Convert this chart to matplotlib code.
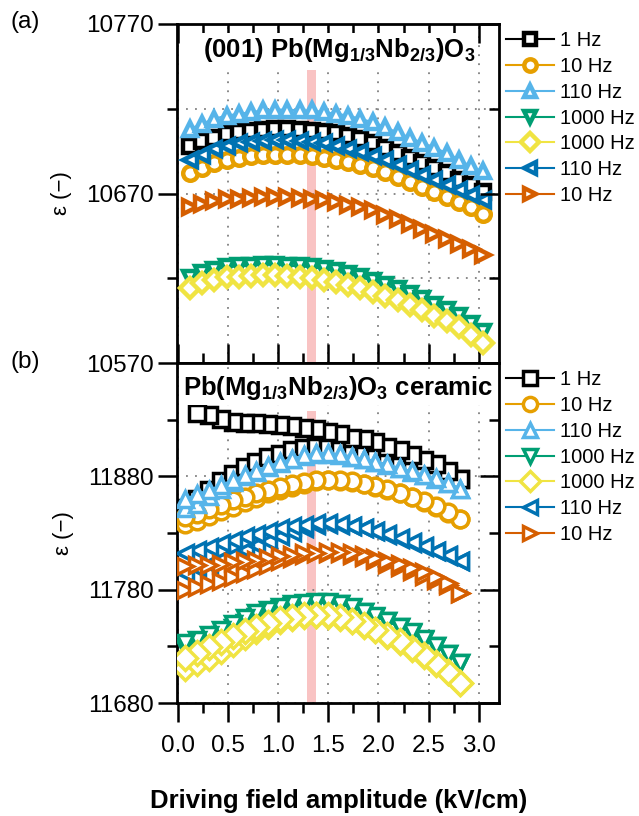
import numpy as np
import matplotlib.pyplot as plt
from matplotlib.ticker import MultipleLocator, FixedLocator, NullFormatter

plt.rcParams['font.family'] = ['Liberation Sans', 'DejaVu Sans']
plt.rcParams['mathtext.fontset'] = 'custom'
plt.rcParams['mathtext.rm'] = 'Liberation Sans'
plt.rcParams['mathtext.bf'] = 'Liberation Sans:bold'

# ---- data ----
labels = ['1 Hz', '10 Hz', '110 Hz', '1000 Hz', '1000 Hz', '110 Hz', '10 Hz']
colors = ['#000000', '#E69F00', '#56B4E9', '#009E73', '#F0E442', '#0072B2', '#D55E00']
markers = ['s', 'o', '^', 'v', 'D', '<', '>']

# (a) single crystal, field amplitude in kV/cm
xa = [0.12, 0.24, 0.36, 0.49, 0.61, 0.73, 0.85, 0.97, 1.09, 1.22, 1.34, 1.46, 1.58,
      1.70, 1.82, 1.95, 2.07, 2.19, 2.31, 2.43, 2.55, 2.68, 2.80, 2.92, 3.04]
a_1hz = [10698, 10701, 10703, 10705, 10706, 10707, 10707.5, 10708, 10708, 10707.5, 10707,
         10706.5, 10705.5, 10704, 10702, 10700, 10697, 10694, 10691, 10688, 10685, 10682,
         10678, 10675, 10671]
a_10hz = [10682, 10685, 10688, 10690, 10691, 10692, 10692.5, 10693, 10693, 10692.5, 10692,
          10691, 10690, 10688.5, 10687, 10685, 10682.5, 10680, 10677, 10674, 10671, 10668,
          10665, 10662, 10658]
a_110hz = [10708, 10711, 10714, 10716, 10717, 10718, 10719, 10719.5, 10719.5, 10719, 10719,
           10718, 10717, 10716, 10714, 10712, 10709, 10706, 10703, 10700, 10697, 10694,
           10690, 10686, 10683]
a_1000hz = [10620, 10623, 10625, 10626.5, 10627, 10627.5, 10628, 10628, 10627.5, 10627,
            10626.5, 10625.5, 10624, 10622.5, 10620.5, 10618.5, 10616, 10613.5, 10610.5,
            10607.5, 10604.5, 10601, 10597.5, 10593, 10588.5]
a_1000hz_b = [10614, 10617, 10619, 10620.5, 10621, 10621.5, 10622, 10622, 10621.5, 10621,
              10620, 10619, 10617.5, 10616, 10614, 10612, 10609.5, 10607, 10604, 10601,
              10598, 10594.5, 10591, 10586.5, 10582]
a_110hz_b = [10690, 10693, 10696, 10698, 10699.5, 10700.5, 10701, 10701.5, 10701.5, 10701,
             10700.5, 10699.5, 10698, 10696.5, 10694.5, 10692, 10689.5, 10687, 10684, 10681,
             10678, 10675, 10672, 10669, 10666]
a_10hz_b = [10662, 10664, 10665.5, 10666.5, 10667, 10667.5, 10668, 10668, 10668, 10667.5,
            10667, 10666, 10665, 10663.5, 10662, 10660, 10657.5, 10655, 10652, 10649, 10646,
            10643, 10640, 10637, 10634]
series_a = [a_1hz, a_10hz, a_110hz, a_1000hz, a_1000hz_b, a_110hz_b, a_10hz_b]

# (b) ceramic: rising-field branch and falling-field branch (both listed vs. xb)
xb = [0.07, 0.19, 0.31, 0.43, 0.55, 0.67, 0.78, 0.90, 1.02, 1.14, 1.26, 1.38, 1.50, 1.62,
      1.74, 1.86, 1.97, 2.09, 2.21, 2.33, 2.45, 2.57, 2.69, 2.81]
b_1hz_up = [11852, 11860, 11868, 11876, 11882, 11888, 11893, 11897, 11900, 11903, 11905,
            11906, 11906, 11905, 11904, 11902, 11899, 11896, 11893, 11890, 11887, 11884,
            11881, 11878]
b_1hz_down = [np.nan, 11936, 11934, 11931, 11928, 11927.5, 11927, 11926, 11925.5, 11924,
              11923, 11921.5, 11919.5, 11917, 11914, 11913, 11910, 11906, 11903, 11898.5,
              11894, 11890.5, 11885, 11878]
b_10hz_up = [11838, 11841, 11845, 11849, 11853, 11857, 11861, 11865, 11868, 11871, 11873.5,
             11875.5, 11876.5, 11876, 11875, 11873, 11871, 11868, 11865, 11861.5, 11857.5,
             11853, 11848, 11842]
b_10hz_down = [11844, 11847, 11851, 11855, 11859, 11862, 11865, 11868, 11870.5, 11873,
               11875, 11876.5, 11877, 11876.5, 11875.5, 11873.5, 11871.5, 11868.5, 11865.5,
               11862, 11858, 11853.5, 11848.5, 11842]
b_110hz_up = [11852, 11856, 11863, 11869, 11875, 11880, 11884, 11888, 11892, 11895, 11898,
              11900, 11900, 11899, 11897, 11895, 11892.5, 11890, 11887, 11884, 11881, 11878,
              11874, 11869]
b_110hz_down = [11860, 11864, 11868, 11872, 11877, 11881, 11885, 11889, 11892.5, 11895.5,
                11898.5, 11900.5, 11900.5, 11899.5, 11897.5, 11895.5, 11893, 11890.5, 11887.5,
                11884.5, 11881.5, 11878.5, 11874.5, 11869]
b_1000hz_up = [11728.5, 11731, 11735, 11740, 11746, 11751, 11755.5, 11759.5, 11763, 11765.5,
               11767.5, 11768.5, 11768.5, 11767, 11764, 11760, 11756, 11752, 11747, 11742,
               11736, 11730, 11723, 11715]
b_1000hz_down = [11733, 11736, 11740, 11744, 11750, 11755, 11759, 11762.5, 11765, 11767,
                 11768.5, 11769, 11769, 11767.5, 11764.5, 11760.5, 11756.5, 11752.5, 11747.5,
                 11742.5, 11736.5, 11730.5, 11723.5, 11715]
b_1000hz_b_up = [11711, 11715, 11720, 11726, 11732, 11738, 11743.5, 11748, 11752, 11755,
                 11757, 11758, 11757, 11755, 11752, 11748, 11744, 11739.5, 11734, 11728,
                 11721.5, 11714.5, 11707, 11698]
b_1000hz_b_down = [11720, 11724, 11729, 11734, 11739, 11743.5, 11747.5, 11751, 11754, 11756,
                   11757.5, 11758, 11757.5, 11755.5, 11752.5, 11748.5, 11744.5, 11740,
                   11734.5, 11728.5, 11722, 11715, 11707.5, 11698]
b_110hz_b_up = [11795, 11799, 11803, 11807, 11811, 11815, 11819, 11823, 11827, 11831,
                11834.5, 11837, 11838, 11837.5, 11836, 11834, 11831.5, 11828.5, 11825,
                11821.5, 11818, 11814, 11810, 11805]
b_110hz_b_down = [11812, 11815, 11818, 11821, 11824, 11827, 11829.5, 11832, 11834, 11836,
                  11837.5, 11838.5, 11838.5, 11838, 11836.5, 11834.5, 11832, 11829, 11825.5,
                  11822, 11818.5, 11814.5, 11810.5, 11805]
b_10hz_b_up = [11780, 11782, 11785, 11788, 11791.5, 11795, 11798.5, 11802, 11805, 11808,
               11810.5, 11812, 11812.5, 11812, 11810.5, 11808.5, 11806, 11803, 11800, 11796.5,
               11792.5, 11788.5, 11784, 11777]
b_10hz_b_down = [11801, 11801.5, 11802, 11803, 11804, 11805, 11806.5, 11808, 11809.5, 11811,
                 11812, 11812.5, 11813, 11813, 11812, 11810.5, 11808, 11805.5, 11802.5, 11799,
                 11795.5, 11791, 11786, 11777]
series_b = [(b_1hz_up, b_1hz_down), (b_10hz_up, b_10hz_down), (b_110hz_up, b_110hz_down),
            (b_1000hz_up, b_1000hz_down), (b_1000hz_b_up, b_1000hz_b_down),
            (b_110hz_b_up, b_110hz_b_down), (b_10hz_b_up, b_10hz_b_down)]

band = (1.29, 1.38)

# ---- figure ----
W, H = 639, 816
fig = plt.figure(figsize=(W / 100, H / 100), dpi=100)
left, right = 177 / W, 499 / W
ax_a = fig.add_axes([left, 1 - 363 / H, right - left, (363 - 24) / H])
ax_b = fig.add_axes([left, 1 - 703 / H, right - left, (703 - 363) / H])

tick_fs = 17.5
for ax in (ax_a, ax_b):
    ax.set_xlim(-0.005, 3.2)
    ax.xaxis.set_major_locator(MultipleLocator(0.5))
    ax.xaxis.set_minor_locator(MultipleLocator(0.25))
    for s in ax.spines.values():
        s.set_linewidth(2.0)
    ax.tick_params(axis='y', which='major', direction='out', length=14, width=1.8,
                   labelsize=tick_fs, pad=3, right=False)
    ax.tick_params(axis='y', which='minor', direction='out', length=7.5, width=1.8, right=False)
    ax.grid(axis='x', which='major', linestyle=(0, (1, 4)), color='#808080', linewidth=1.3)

# x ticks: (a) inward on top and bottom, (b) outward with labels
ax_a.tick_params(axis='x', which='major', direction='in', length=14, width=1.8,
                 top=True, bottom=True, labelbottom=False)
ax_a.tick_params(axis='x', which='minor', direction='in', length=7.5, width=1.8,
                 top=True, bottom=True)
ax_b.tick_params(axis='x', which='major', direction='out', length=14, width=1.8,
                 top=False, labelsize=tick_fs, pad=9)
ax_b.tick_params(axis='x', which='minor', direction='out', length=7.5, width=1.8, top=False)

ax_a.set_ylim(10570, 10770)
ax_a.yaxis.set_major_locator(FixedLocator([10570, 10670, 10770]))
ax_a.yaxis.set_minor_locator(FixedLocator([10620, 10720]))
ax_a.set_yticklabels(['10570', '10670', '10770'])
ax_a.grid(axis='y', which='both', linestyle=(0, (1, 4)), color='#808080', linewidth=1.3)

ax_b.set_ylim(11680, 11980)
ax_b.yaxis.set_major_locator(FixedLocator([11680, 11780, 11880]))
ax_b.yaxis.set_minor_locator(FixedLocator([11730, 11830, 11930]))
ax_b.set_yticklabels(['11680', '11780', '11880'])
ax_b.grid(axis='y', which='major', linestyle=(0, (1, 4)), color='#808080', linewidth=1.3)

# right-hand ticks point inward
for ax in (ax_a, ax_b):
    tw = ax.twinx()
    tw.set_ylim(ax.get_ylim())
    tw.yaxis.set_major_locator(FixedLocator(ax.get_yticks()))
    tw.yaxis.set_minor_locator(FixedLocator(ax.yaxis.get_minorticklocs()))
    tw.yaxis.set_major_formatter(NullFormatter())
    tw.tick_params(axis='y', which='major', direction='in', length=14, width=1.8)
    tw.tick_params(axis='y', which='minor', direction='in', length=7.5, width=1.8)
    for s in tw.spines.values():
        s.set_visible(False)

# measurement field marker
ax_a.axvspan(*band, ymin=0, ymax=0.865, color='#f8b4b4', alpha=0.8, lw=0, zorder=1)
ax_b.axvspan(*band, ymin=0, ymax=0.86, color='#f8b4b4', alpha=0.8, lw=0, zorder=1)

handles_a = []
for y, c, m, lab in zip(series_a, colors, markers, labels):
    ln, = ax_a.plot(xa, y, color=c, marker=m, ms=10.5, mew=3.2, mfc='white', mec=c,
                    lw=1.5, label=lab, zorder=3)
    handles_a.append(ln)

handles_b = []
for (up, down), c, m, lab in zip(series_b, colors, markers, labels):
    xx = xb + xb[::-1]
    yy = list(up) + list(down)[::-1]
    ln, = ax_b.plot(xx, yy, color=c, marker=m, ms=12, mew=2.5, mfc='white', mec=c,
                    lw=1.5, label=lab, zorder=3)
    handles_b.append(ln)

# titles with white background
ax_a.text(0.503, 0.923, r'(001) Pb(Mg$_{\mathbf{1/3}}$Nb$_{\mathbf{2/3}}$)O$_{\mathbf{3}}$',
          transform=ax_a.transAxes, ha='center', va='center', fontsize=18.5,
          fontweight='bold', zorder=5,
          bbox=dict(facecolor='white', edgecolor='none', pad=2))
ax_b.text(0.50, 0.925, r'Pb(Mg$_{\mathbf{1/3}}$Nb$_{\mathbf{2/3}}$)O$_{\mathbf{3}}$ ceramic',
          transform=ax_b.transAxes, ha='center', va='center', fontsize=18.5,
          fontweight='bold', zorder=5,
          bbox=dict(facecolor='white', edgecolor='none', pad=2))

leg_kw = dict(loc='upper left', frameon=False, fontsize=14.5, handlelength=2.4,
              handletextpad=0.3, labelspacing=0.34, borderaxespad=0, borderpad=0.35,
              markerscale=0.85)
ax_a.legend(handles=handles_a, bbox_to_anchor=(1.0, 1.0), **leg_kw)
ax_b.legend(handles=handles_b, bbox_to_anchor=(1.0, 1.0), **leg_kw)

for ax in (ax_a, ax_b):
    ax.set_ylabel('ε (−)', fontsize=16, labelpad=10)

fig.text(10 / W, 1 - 22 / H, '(a)', fontsize=17.5, ha='left', va='center')
fig.text(10 / W, 1 - 362 / H, '(b)', fontsize=17.5, ha='left', va='center')
fig.text(339 / W, 1 - 801 / H, 'Driving field amplitude (kV/cm)', fontsize=18.5,
         fontweight='bold', ha='center', va='center')

fig.savefig('out.png', dpi=100)
